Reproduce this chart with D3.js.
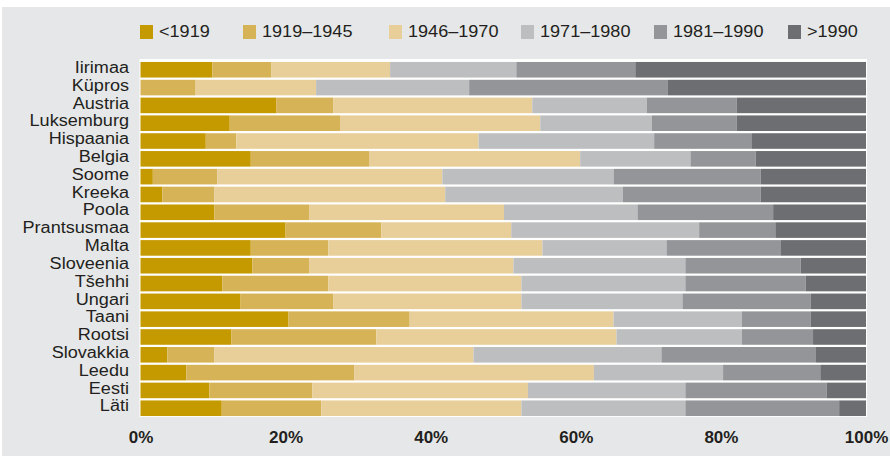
<!DOCTYPE html>
<html>
<head>
<meta charset="utf-8">
<script src="https://cdn.jsdelivr.net/npm/d3@7"></script>
<style>
  body { margin: 0; background: #fff; }
  text { font-family: "Liberation Sans", Arial, sans-serif; fill: #231f20; }
</style>
</head>
<body>
<div id="pane"></div>
<script>
const countries = ["Iirimaa", "Küpros", "Austria", "Luksemburg", "Hispaania", "Belgia", "Soome", "Kreeka",
  "Poola", "Prantsusmaa", "Malta", "Sloveenia", "Tšehhi", "Ungari", "Taani", "Rootsi",
  "Slovakkia", "Leedu", "Eesti", "Läti"];
const periods = ["<1919", "1919–1945", "1946–1970", "1971–1980", "1981–1990", ">1990"];
const colors = ["#c49a00", "#d7b358", "#e8ce98", "#bdbec0", "#939598", "#6d6e71"];

// share of dwellings per construction period, %
const before1919 = [9.9, 0, 18.7, 12.3, 9.0, 15.2, 1.7, 3.0, 10.2, 20.0, 15.2, 15.4, 11.3, 13.8, 20.4, 12.5, 3.7, 6.3, 9.5, 11.2];
const p1919_1945 = [8.1, 7.6, 7.9, 15.2, 4.2, 16.3, 8.9, 7.2, 13.1, 13.2, 10.7, 7.9, 14.6, 12.8, 16.7, 20.0, 6.5, 23.2, 14.2, 13.7];
const p1946_1970 = [16.4, 16.6, 27.4, 27.6, 33.4, 29.1, 31.0, 31.8, 26.8, 17.9, 29.5, 28.1, 26.6, 25.9, 28.1, 33.1, 35.7, 33.0, 29.7, 27.6];
const p1971_1980 = [17.4, 21.1, 15.8, 15.4, 24.2, 15.2, 23.6, 24.5, 18.4, 25.9, 17.1, 23.7, 22.6, 22.2, 17.7, 17.3, 25.9, 17.8, 21.7, 22.6];
const p1981_1990 = [16.4, 27.4, 12.4, 11.7, 13.4, 9.0, 20.3, 19.0, 18.7, 10.5, 15.7, 15.9, 16.6, 17.7, 9.5, 9.8, 21.3, 13.4, 19.5, 21.2];
const after1990 = [31.8, 27.3, 17.8, 17.8, 15.8, 15.2, 14.5, 14.5, 12.8, 12.5, 11.8, 9.0, 8.3, 7.6, 7.6, 7.3, 6.9, 6.3, 5.4, 3.7];
const xTicks = [0, 20, 40, 60, 80, 100];

const series = [before1919, p1919_1945, p1946_1970, p1971_1980, p1981_1990, after1990];
const rows = countries.map((c, i) => {
  const r = { country: c };
  periods.forEach((p, j) => { r[p] = series[j][i]; });
  return r;
});

const width = 890, height = 456;
const stretch = 1.13; // source text is set slightly wide

const svg = d3.select("#pane").append("svg")
  .attr("width", width)
  .attr("height", height);

svg.append("rect")
  .attr("x", 2).attr("y", 7)
  .attr("width", width - 2).attr("height", height - 7)
  .attr("fill", "#e6e7e8");

const x = d3.scaleLinear().domain([0, 100]).range([140.5, 866]);
const y = d3.scaleBand().domain(countries).range([60.9, 417.1])
  .paddingInner(0.125).paddingOuter(0.06);

// white plot panel
svg.append("rect")
  .attr("x", 139.5).attr("y", 59)
  .attr("width", 867 - 139.5).attr("height", 417 - 59)
  .attr("fill", "#fff");

const stacked = d3.stack().keys(periods)
  .offset(d3.stackOffsetExpand)(rows);

svg.append("g").selectAll("g")
  .data(stacked)
  .join("g")
  .attr("fill", (d, i) => colors[i])
  .selectAll("rect")
  .data(d => d)
  .join("rect")
  .attr("x", d => x(d[0] * 100))
  .attr("width", d => x(d[1] * 100) - x(d[0] * 100))
  .attr("y", d => y(d.data.country))
  .attr("height", y.bandwidth());

// country labels
svg.append("g").selectAll("text")
  .data(countries)
  .join("text")
  .attr("transform", d => `translate(129,${y(d) + y.bandwidth() / 2 + 3.2}) scale(${stretch},1)`)
  .attr("text-anchor", "end")
  .attr("font-size", 16)
  .text(d => d);

// x axis
const xAxis = svg.append("g")
  .attr("transform", "translate(0,443)")
  .call(d3.axisBottom(x).tickValues(xTicks).tickFormat(d => d + "%").tickSize(0).tickPadding(0));
xAxis.select(".domain").remove();
xAxis.selectAll("text")
  .attr("dy", 0)
  .attr("font-size", 17)
  .attr("font-weight", "bold")
  .attr("font-family", "Liberation Sans, Arial, sans-serif")
  .attr("fill", "#231f20");

// legend
const legendX = [140, 243, 389, 521, 654, 788];
const legend = svg.append("g").selectAll("g")
  .data(periods)
  .join("g")
  .attr("transform", (d, i) => `translate(${legendX[i]},25)`);
legend.append("rect")
  .attr("width", 13).attr("height", 14)
  .attr("fill", (d, i) => colors[i]);
legend.append("text")
  .attr("transform", `translate(19,11.7) scale(${stretch},1)`)
  .attr("font-size", 16)
  .text(d => d);
</script>
</body>
</html>
